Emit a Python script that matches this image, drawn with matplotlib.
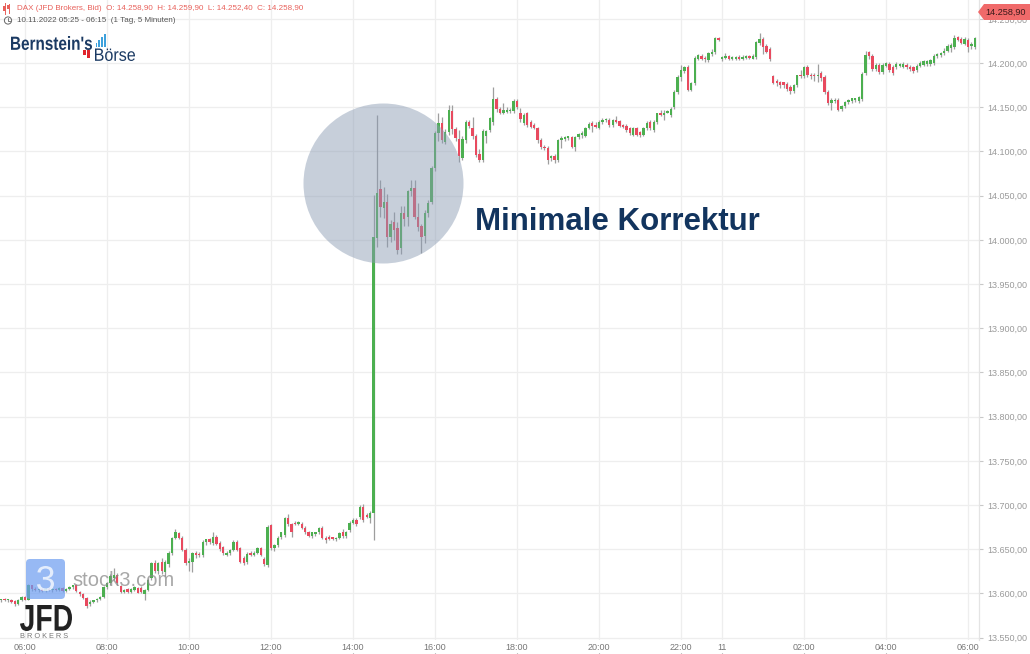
import matplotlib
matplotlib.use("Agg")
import matplotlib.pyplot as plt
import matplotlib.patches as mpatches
from matplotlib.transforms import blended_transform_factory, Affine2D
from matplotlib.textpath import TextPath
from matplotlib.font_manager import FontProperties
import pandas as pd
import numpy as np

plt.rcParams['font.family'] = ['Liberation Sans', 'DejaVu Sans']

# ---------------- data (DAX, JFD Brokers, Bid, 5-minute candles) ----------------
opens = [13592,13593,13592,13593,13591,13588,13593,13596,13593,13609,
         13605,13604,13605,13603,13605,13604,13605,13604,13606,13603,
         13605,13607,13609,13602,13599,13595,13588,13590,13592,13594,
         13596,13607,13612,13617,13621,13608,13602,13605,13602,13604,
         13606,13606,13599,13604,13617,13634,13625,13636,13624,13633,
         13646,13663,13668,13663,13649,13634,13636,13646,13645,13643,
         13658,13661,13657,13664,13657,13652,13644,13646,13649,13658,
         13651,13640,13635,13646,13644,13646,13651,13639,13632,13677,
         13651,13655,13664,13666,13685,13678,13680,13679,13679,13674,
         13669,13665,13667,13669,13674,13663,13664,13663,13661,13663,
         13669,13665,13672,13680,13683,13686,13698,13689,13685,13691,
         14002,14058,14036,14043,14003,14020,14013,13991,14030,14026,
         14055,14059,14026,14016,14004,14030,14043,14081,14121,14132,
         14111,14122,14146,14125,14114,14093,14113,14133,14127,14117,
         14097,14090,14117,14124,14133,14159,14148,14144,14145,14146,
         14146,14157,14143,14132,14143,14133,14130,14126,14113,14105,
         14104,14092,14095,14090,14113,14114,14115,14116,14105,14116,
         14119,14118,14127,14132,14130,14127,14133,14135,14136,14130,
         14136,14134,14130,14129,14126,14119,14126,14122,14119,14126,
         14133,14124,14133,14144,14141,14144,14141,14150,14167,14184,
         14191,14196,14170,14177,14205,14208,14206,14203,14210,14212,
         14228,14205,14206,14208,14205,14205,14207,14205,14206,14208,
         14205,14207,14223,14227,14219,14216,14185,14180,14178,14178,
         14176,14173,14168,14175,14186,14185,14196,14187,14187,14185,
         14189,14184,14167,14155,14157,14158,14148,14151,14156,14157,
         14158,14157,14159,14189,14212,14208,14193,14198,14190,14197,
         14199,14196,14195,14197,14196,14198,14196,14195,14192,14197,
         14198,14199,14199,14200,14208,14209,14211,14214,14217,14218,
         14229,14227,14222,14226,14219,14218]
highs = [13594,13595,13594,13594,13592,13594,13597,13597,13611,13610,
         13607,13606,13606,13606,13607,13606,13606,13607,13607,13606,
         13608,13610,13611,13603,13600,13596,13592,13593,13595,13597,
         13608,13613,13622,13629,13623,13609,13605,13606,13606,13608,
         13607,13608,13605,13616,13636,13638,13636,13640,13638,13648,
         13664,13673,13670,13665,13651,13640,13647,13648,13647,13660,
         13662,13663,13670,13666,13659,13654,13648,13650,13660,13660,
         13653,13642,13647,13648,13648,13653,13653,13641,13677,13679,
         13656,13665,13670,13687,13690,13680,13682,13682,13681,13676,
         13671,13670,13670,13675,13676,13665,13666,13664,13664,13670,
         13673,13671,13682,13685,13685,13700,13701,13691,13693,14051,
         14141,14068,14060,14052,14022,14031,14020,14038,14038,14056,
         14068,14068,14042,14018,14034,14045,14083,14123,14143,14139,
         14125,14152,14152,14128,14124,14118,14135,14136,14139,14120,
         14103,14125,14124,14139,14173,14162,14150,14155,14150,14149,
         14159,14159,14149,14144,14145,14135,14132,14128,14115,14107,
         14106,14096,14097,14114,14118,14117,14118,14118,14118,14121,
         14123,14128,14133,14134,14133,14135,14138,14138,14138,14137,
         14140,14136,14131,14131,14128,14128,14128,14123,14128,14134,
         14135,14135,14144,14147,14147,14147,14150,14169,14186,14198,
         14197,14198,14179,14208,14210,14210,14208,14213,14216,14230,
         14229,14208,14211,14209,14208,14208,14209,14209,14209,14209,
         14210,14225,14234,14229,14221,14218,14187,14182,14180,14179,
         14178,14175,14176,14187,14192,14197,14198,14189,14189,14199,
         14191,14186,14169,14160,14160,14160,14153,14157,14159,14161,
         14161,14163,14190,14214,14214,14210,14200,14200,14200,14201,
         14201,14198,14201,14200,14201,14200,14198,14197,14199,14202,
         14203,14203,14205,14210,14211,14213,14217,14221,14223,14232,
         14231,14229,14229,14228,14224,14230]
lows = [13590,13591,13590,13589,13586,13587,13591,13592,13592,13603,
        13603,13602,13602,13602,13603,13602,13603,13603,13602,13602,
        13604,13605,13602,13597,13594,13583,13586,13589,13590,13592,
        13595,13605,13610,13615,13610,13600,13600,13601,13601,13603,
        13600,13600,13593,13603,13615,13623,13622,13622,13620,13630,
        13644,13661,13661,13648,13632,13625,13624,13640,13641,13641,
        13655,13656,13655,13655,13648,13644,13642,13644,13648,13648,
        13634,13632,13633,13642,13642,13645,13642,13631,13630,13649,
        13648,13653,13662,13664,13676,13664,13677,13677,13673,13667,
        13664,13663,13665,13667,13662,13657,13660,13660,13659,13661,
        13663,13663,13670,13678,13676,13684,13681,13685,13680,13660,
        13992,14026,14025,13992,13998,14000,13984,13984,14016,14016,
        14050,14024,14010,13985,13996,14026,14040,14078,14112,14110,
        14108,14119,14120,14112,14088,14090,14110,14127,14114,14094,
        14088,14088,14110,14122,14130,14145,14142,14142,14143,14144,
        14144,14148,14133,14130,14128,14126,14125,14110,14103,14102,
        14086,14089,14087,14088,14104,14112,14113,14104,14101,14114,
        14115,14116,14125,14122,14127,14125,14131,14133,14128,14128,
        14132,14128,14127,14122,14119,14117,14117,14116,14117,14124,
        14124,14122,14131,14140,14136,14143,14139,14148,14165,14180,
        14189,14168,14168,14175,14203,14203,14201,14201,14208,14210,
        14225,14202,14204,14203,14203,14203,14203,14203,14204,14204,
        14204,14205,14220,14210,14211,14202,14176,14174,14172,14172,
        14168,14165,14166,14173,14183,14183,14184,14182,14180,14179,
        14180,14165,14153,14147,14155,14146,14146,14149,14154,14155,
        14156,14155,14157,14187,14205,14191,14191,14188,14188,14195,
        14190,14187,14193,14195,14194,14193,14191,14189,14190,14196,
        14197,14197,14197,14198,14206,14207,14209,14212,14213,14216,
        14225,14221,14220,14213,14216,14216]
closes = [13593,13592,13593,13590,13588,13592,13596,13593,13609,13605,
          13604,13605,13603,13605,13604,13605,13604,13606,13603,13605,
          13607,13609,13603,13599,13595,13586,13590,13592,13594,13596,
          13607,13612,13620,13621,13612,13602,13604,13602,13605,13607,
          13601,13602,13604,13615,13634,13625,13634,13625,13635,13646,
          13663,13670,13663,13649,13634,13637,13646,13644,13643,13658,
          13661,13658,13664,13656,13650,13646,13646,13649,13658,13649,
          13636,13634,13645,13644,13646,13651,13644,13633,13675,13651,
          13655,13663,13669,13685,13678,13670,13678,13680,13674,13669,
          13665,13669,13669,13674,13663,13660,13662,13662,13663,13668,
          13665,13670,13680,13683,13678,13698,13683,13686,13691,14003,
          14053,14037,14043,14003,14018,14011,13988,14030,14024,14055,
          14059,14026,14014,14003,14030,14042,14081,14121,14132,14113,
          14122,14147,14125,14115,14095,14114,14133,14129,14117,14096,
          14090,14123,14123,14138,14159,14148,14144,14147,14147,14147,
          14157,14150,14137,14141,14130,14128,14126,14113,14105,14104,
          14090,14095,14090,14113,14115,14116,14117,14105,14116,14120,
          14121,14127,14131,14129,14128,14133,14136,14137,14130,14135,
          14133,14129,14128,14124,14121,14126,14119,14119,14126,14132,
          14126,14133,14143,14141,14144,14146,14148,14167,14184,14192,
          14195,14170,14177,14206,14209,14205,14204,14211,14213,14228,
          14226,14207,14208,14205,14207,14207,14205,14207,14208,14206,
          14208,14224,14227,14218,14213,14204,14177,14177,14175,14175,
          14171,14168,14175,14186,14185,14196,14187,14185,14185,14187,
          14183,14167,14155,14158,14158,14147,14151,14156,14158,14160,
          14160,14162,14188,14209,14208,14193,14198,14190,14198,14200,
          14192,14189,14199,14199,14199,14195,14193,14191,14197,14200,
          14202,14202,14203,14208,14210,14211,14214,14219,14220,14228,
          14226,14223,14227,14218,14222,14228]

# session timestamps (JFD CFD pauses 23:00-00:00)
times = list(pd.date_range("2022-11-10 05:25", "2022-11-10 22:55", freq="5min")) + \
        list(pd.date_range("2022-11-11 00:00", "2022-11-11 06:10", freq="5min"))
tick_times = ["2022-11-10 06:00", "2022-11-10 08:00", "2022-11-10 10:00", "2022-11-10 12:00",
              "2022-11-10 14:00", "2022-11-10 16:00", "2022-11-10 18:00", "2022-11-10 20:00",
              "2022-11-10 22:00", "2022-11-11 00:00", "2022-11-11 02:00", "2022-11-11 04:00",
              "2022-11-11 06:00"]
tick_labels = ["06:00", "08:00", "10:00", "12:00", "14:00", "16:00", "18:00", "20:00",
               "22:00", "11", "02:00", "04:00", "06:00"]
y_ticks = list(range(13550, 14251, 50))

header = "DAX (JFD Brokers, Bid)  O: 14.258,90  H: 14.259,90  L: 14.252,40  C: 14.258,90"
subheader = "10.11.2022 05:25 - 06:15  (1 Tag, 5 Minuten)"
last_price = "14.258,90"
annotation = "Minimale Korrektur"

# ---------------- figure ----------------
W, H = 1030, 654
fig = plt.figure(figsize=(W / 100, H / 100), dpi=100)
fig.patch.set_facecolor("white")
ax = fig.add_axes([0, 14 / H, 979 / W, 640 / H])

o = np.array(opens, float); h = np.array(highs, float)
l = np.array(lows, float); c = np.array(closes, float)
x = np.arange(len(o))
up = c >= o
GREEN, RED, WICK = "#4caf50", "#e84a5f", "#9e9e9e"

ax.vlines(x, l, h, color=WICK, lw=0.9, zorder=3)
body_lo = np.minimum(o, c)
body_h = np.maximum(np.abs(c - o), 1.3)
ax.bar(x[up], body_h[up], bottom=body_lo[up], width=0.68, color=GREEN, linewidth=0, zorder=4)
ax.bar(x[~up], body_h[~up], bottom=body_lo[~up], width=0.68, color=RED, linewidth=0, zorder=4)

ax.set_xlim(-0.32, 286.2)
ax.set_ylim(13547.3, 14271.3)

tpos = [times.index(pd.Timestamp(t)) for t in tick_times]
ax.set_xticks(tpos)
ax.set_xticklabels(tick_labels)
ax.set_yticks(y_ticks)
ax.set_yticklabels([f"{v:,.2f}".replace(",", "X").replace(".", ",").replace("X", ".") for v in y_ticks])
ax.yaxis.tick_right()
ax.tick_params(axis="y", length=3, width=0.8, color="#c8c8c8", labelsize=6.5,
               labelcolor="#9a9a9a", pad=3)
ax.tick_params(axis="x", length=0, labelsize=6.5, labelcolor="#777777", pad=2.5)
ax.grid(True, color="#eeeeee", lw=0.9, zorder=0)
for s in ["top", "left", "bottom"]:
    ax.spines[s].set_visible(False)
ax.spines["right"].set_color("#e4e4e4")
ax.spines["right"].set_linewidth(0.9)
ax.set_facecolor("white")
# little tick marks below the time labels
tr = blended_transform_factory(ax.transData, ax.transAxes)
ax.vlines(tpos, -0.027, -0.020, transform=tr, color="#888888", lw=0.8, clip_on=False)

# ---------------- overlay (pixel coordinates) ----------------
ov = fig.add_axes([0, 0, 1, 1], zorder=10)
ov.set_xlim(0, W); ov.set_ylim(H, 0); ov.axis("off"); ov.patch.set_alpha(0)

# highlight circle
ov.add_patch(mpatches.Circle((383.5, 183.5), 80, facecolor="#8a9bb3", alpha=0.48, lw=0))
ov.text(475, 222, annotation, fontsize=22.5, fontweight="bold", color="#12345e",
        ha="left", va="center")

# header
for xx, y0, y1, b0, b1, col in [(4.5, 3, 14, 6, 11, "#e8605a"), (8.5, 4, 13, 5, 9, "#e8605a")]:
    ov.plot([xx, xx], [y0, y1], color=col, lw=0.7)
    ov.add_patch(mpatches.Rectangle((xx - 1.2, b0), 2.4, b1 - b0, color=col, lw=0))
ov.text(17, 9, header, fontsize=5.8, color="#e8605a", ha="left", va="center")
ov.add_patch(mpatches.Circle((8, 20.5), 3.6, facecolor="none", edgecolor="#666666", lw=0.7))
ov.plot([8, 8, 10], [18.3, 20.7, 20.7], color="#666666", lw=0.6)
ov.text(17, 20.5, subheader, fontsize=5.8, color="#555555", ha="left", va="center")


def fitted_text(txt, x0, y0, x1, y1, color, weight="bold", alpha=1.0, family="Liberation Sans"):
    """Draw text as a path stretched to fill a pixel box (x0,y0)-(x1,y1) on the overlay."""
    tp = TextPath((0, 0), txt, size=10, prop=FontProperties(family=family, weight=weight))
    bb = tp.get_extents()
    sx = (x1 - x0) / bb.width
    sy = (y1 - y0) / bb.height
    t = Affine2D().translate(-bb.x0, -bb.y0).scale(sx, -sy).translate(x0, y1)
    ov.add_patch(mpatches.PathPatch(t.transform_path(tp), facecolor=color, lw=0, alpha=alpha))


# Bernstein's Börse logo
fitted_text("Bernstein's", 11, 36, 92, 50, "#1b3a63")
for k, hh in enumerate([4, 7, 10, 13]):
    ov.add_patch(mpatches.Rectangle((95.5 + k * 2.8, 47 - hh), 1.7, hh, color="#3ea1dc", lw=0))
ov.add_patch(mpatches.Rectangle((82.5, 50), 3.2, 5, color="#e0242b", lw=0))
ov.add_patch(mpatches.Rectangle((87, 50), 3.2, 8, color="#e0242b", lw=0))
fitted_text("Börse", 95, 48.5, 135, 61, "#1b3a63", weight="normal")

# last price tag
ov.add_patch(mpatches.Polygon([(978, 12), (984, 4), (1030, 4), (1030, 20), (984, 20)],
                              closed=True, facecolor="#f06a6a", lw=0))
ov.text(1006, 12, last_price, fontsize=6.6, color="#3a1a1a", ha="center", va="center")

# stock3 / JFD watermark
ov.add_patch(mpatches.FancyBboxPatch((26, 559), 39, 40, boxstyle="round,pad=0,rounding_size=4",
                                     facecolor="#6b9cf0", alpha=0.7, lw=0))
fitted_text("3", 37, 566, 54, 591, "white", weight="normal", alpha=0.75)
ov.text(72, 580, "stock3.com", fontsize=14.5, color="#8a8a8a", alpha=0.75,
        ha="left", va="center")
fitted_text("JFD", 20, 605, 72, 631, "#222222")
ov.text(20.5, 637, "B R O K E R S", fontsize=5.3, color="#777777", ha="left", va="center")

fig.savefig("out.png", dpi=100, facecolor="white")
